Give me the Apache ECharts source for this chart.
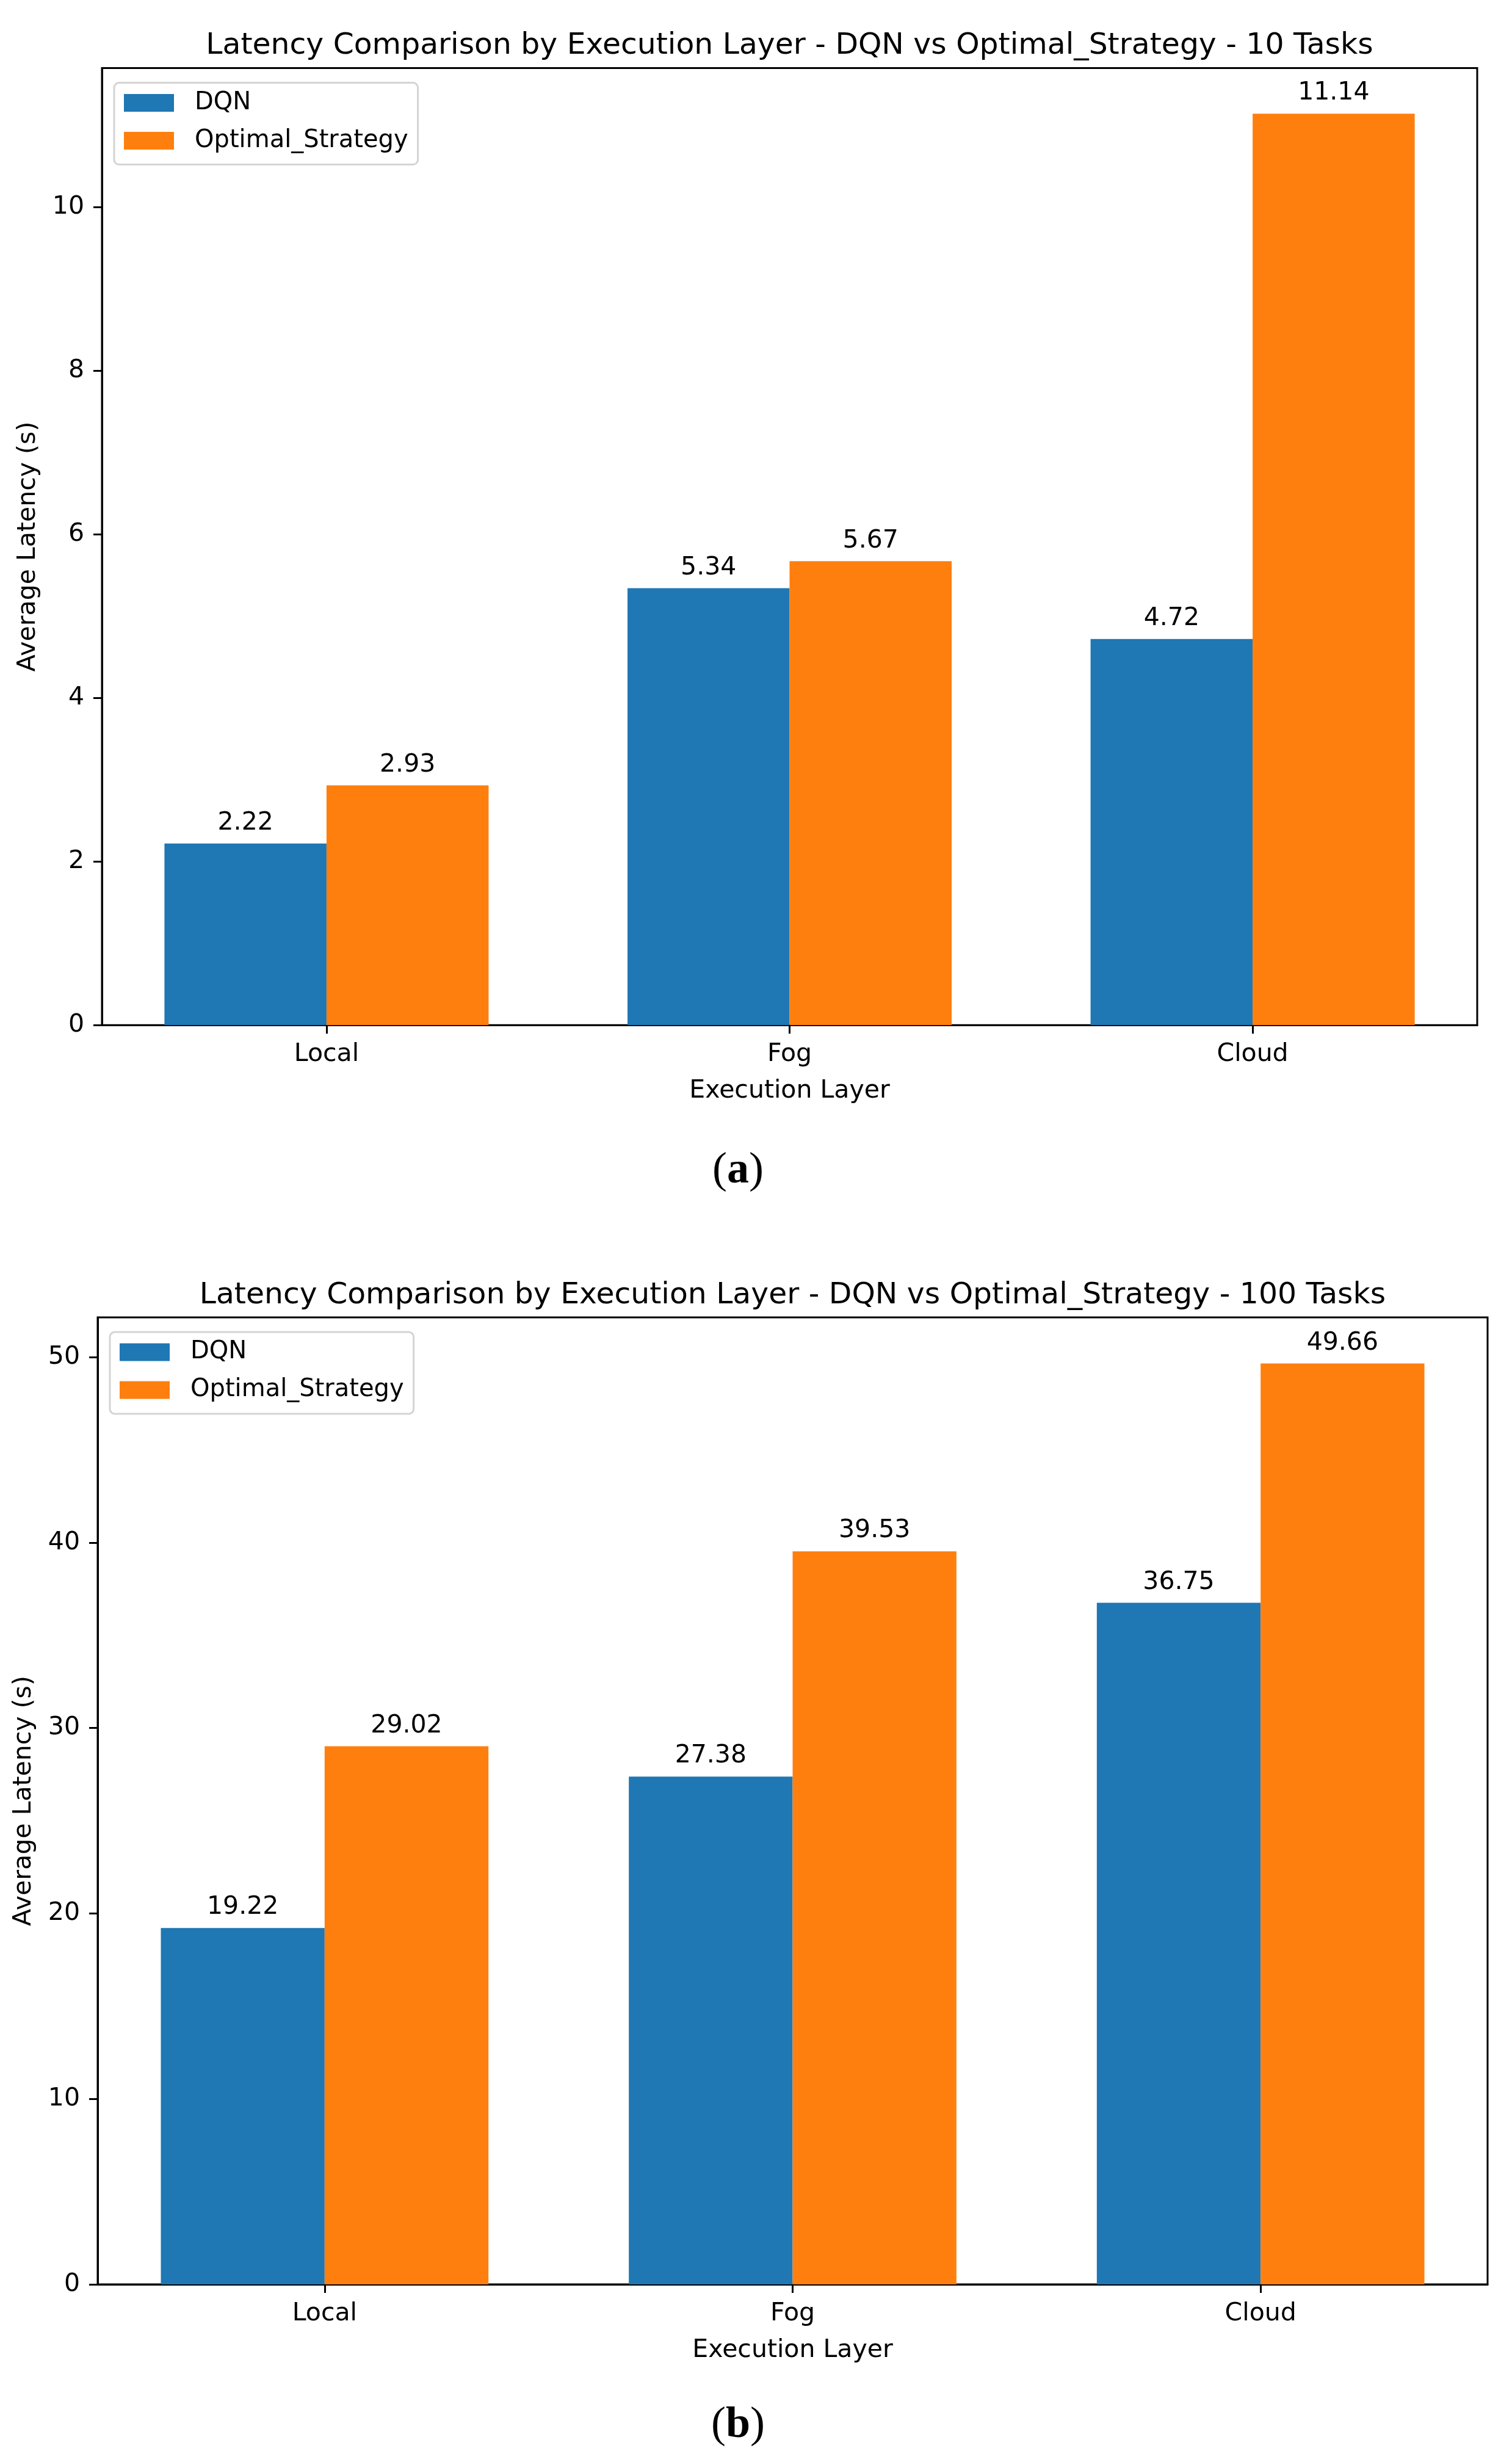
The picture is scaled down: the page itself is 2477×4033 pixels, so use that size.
<!DOCTYPE html>
<html>
<head>
<meta charset="utf-8">
<script src="https://cdn.jsdelivr.net/npm/echarts@6/dist/echarts.min.js"></script>
<style>
html,body{margin:0;padding:0;background:#fff;}
#chart{width:2477px;height:4033px;}
</style>
</head>
<body>
<div id="chart"></div>
<script>
// ---- data ----
const categories = ['Local', 'Fog', 'Cloud'];
const seriesNames = ['DQN', 'Optimal_Strategy'];
const dqn10 = [2.22, 5.34, 4.72];
const opt10 = [2.93, 5.67, 11.14];
const dqn100 = [19.22, 27.38, 36.75];
const opt100 = [29.02, 39.53, 49.66];
const yTicks10 = [0, 2, 4, 6, 8, 10];
const yTicks100 = [0, 10, 20, 30, 40, 50];
const titles = [
  'Latency Comparison by Execution Layer - DQN vs Optimal_Strategy - 10 Tasks',
  'Latency Comparison by Execution Layer - DQN vs Optimal_Strategy - 100 Tasks'
];
const captions = ['a', 'b'];
const xName = 'Execution Layer';
const yName = 'Average Latency (s)';

// ---- layout / style ----
const FONT = 'DejaVu Sans';
const BLUE = '#1f77b4', ORANGE = '#ff7f0e';
const grids = [
  { left: 167, top: 111.6, width: 2253, height: 1567.7 },
  { left: 160, top: 2158, width: 2277, height: 1584 }
];
const xMin = -0.485, xMax = 2.485;
const barFrac = 0.35;

const chart = echarts.init(document.getElementById('chart'), null, { renderer: 'canvas' });

function toPairs(vals) { return categories.map((c, i) => [i, vals[i]]); }

const panels = [
  { dqn: dqn10, opt: opt10, ticks: yTicks10 },
  { dqn: dqn100, opt: opt100, ticks: yTicks100 }
];

const xAxes = [], yAxes = [], series = [], legends = [], graphics = [];
panels.forEach((p, k) => {
  const g = grids[k];
  const barW = barFrac * g.width / (xMax - xMin);
  const yMax = Math.max(...p.dqn, ...p.opt) * 1.05;
  xAxes.push({
    type: 'value', gridIndex: k, min: xMin, max: xMax,
    splitLine: { show: false },
    axisLine: { show: true, onZero: false, lineStyle: { color: '#000', width: 3 } },
    axisTick: { show: true, customValues: categories.map((c, i) => i), length: 14, lineStyle: { color: '#000', width: 3 } },
    axisLabel: {
      customValues: categories.map((c, i) => i),
      formatter: v => categories[Math.round(v)],
      margin: 28, fontSize: 41, lineHeight: 41, color: '#000', fontFamily: FONT
    },
    name: xName, nameLocation: 'middle', nameGap: 88,
    nameTextStyle: { fontSize: 41, lineHeight: 41, color: '#000', fontFamily: FONT }
  });
  yAxes.push({
    type: 'value', gridIndex: k, min: 0, max: yMax,
    splitLine: { show: false },
    axisLine: { show: true, onZero: false, lineStyle: { color: '#000', width: 3 } },
    axisTick: { show: true, customValues: p.ticks, length: 14, lineStyle: { color: '#000', width: 3 } },
    axisLabel: { customValues: p.ticks, margin: 29, fontSize: 41, lineHeight: 41, padding: [5, 0, 0, 0], color: '#000', fontFamily: FONT },
    name: yName, nameLocation: 'middle', nameGap: 100,
    nameTextStyle: { fontSize: 41, lineHeight: 41, color: '#000', fontFamily: FONT }
  });
  const lbl = {
    show: true, position: 'top', distance: 13, fontSize: 41, lineHeight: 41,
    color: '#000', fontFamily: FONT, formatter: q => q.value[1].toFixed(2)
  };
  series.push({
    type: 'bar', name: seriesNames[0], xAxisIndex: k, yAxisIndex: k,
    data: toPairs(p.dqn), barWidth: barW, barGap: '0%',
    itemStyle: { color: BLUE }, label: lbl
  });
  series.push({
    type: 'bar', name: seriesNames[1], xAxisIndex: k, yAxisIndex: k,
    data: toPairs(p.opt), barWidth: barW, barGap: '0%',
    itemStyle: { color: ORANGE }, label: lbl
  });
  legends.push({
    orient: 'vertical', left: g.left + 20, top: g.top + 24,
    data: seriesNames, icon: 'rect', itemWidth: 82, itemHeight: 29, itemGap: 20,
    padding: [12, 16, 18, 16],
    borderColor: '#d4d4d4', borderWidth: 3, borderRadius: 8, backgroundColor: '#fff',
    textStyle: { fontSize: 40, lineHeight: 42, color: '#000', fontFamily: FONT, padding: [0, 0, 0, 29] },
    selectedMode: false
  });
  // title
  graphics.push({
    type: 'text', x: g.left + g.width / 2, y: g.top - 36,
    style: { text: titles[k], fontSize: 48.8, fontFamily: FONT, fill: '#000', align: 'center', verticalAlign: 'middle' }
  });
});

const capRich = {
  p: { fontSize: 72, fontFamily: 'Liberation Serif', fill: '#000' },
  b: { fontSize: 72, fontFamily: 'Liberation Serif', fontWeight: 'bold', fill: '#000' }
};
graphics.push({
  type: 'text', x: 1209, y: 1918,
  style: { text: '{p|(}{b|' + captions[0] + '}{p|)}', align: 'center', verticalAlign: 'middle', rich: capRich }
});
graphics.push({
  type: 'text', x: 1209, y: 3973,
  style: { text: '{p|(}{b|' + captions[1] + '}{p|)}', align: 'center', verticalAlign: 'middle', rich: capRich }
});

chart.setOption({
  animation: false,
  backgroundColor: '#fff',
  grid: grids.map(g => Object.assign({ show: true, borderColor: '#000', borderWidth: 3, backgroundColor: 'transparent', containLabel: false }, g)),
  xAxis: xAxes,
  yAxis: yAxes,
  legend: legends,
  series: series,
  graphic: graphics
});
</script>
</body>
</html>
